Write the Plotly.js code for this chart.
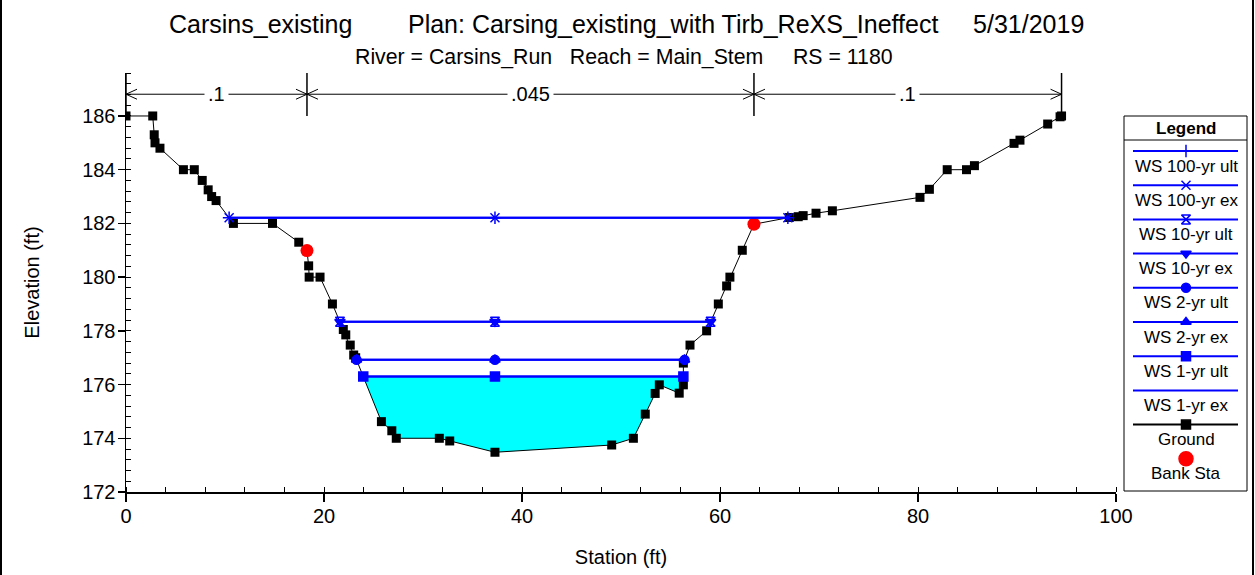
<!DOCTYPE html>
<html>
<head>
<meta charset="utf-8">
<script src="https://cdn.plot.ly/plotly-3.0.1.min.js"></script>
<style>html,body{margin:0;padding:0;background:#fff;}#chart{width:1255px;height:575px;}</style>
</head>
<body>
<div id="chart"></div>
<script>
// ---------------- DATA ----------------
const groundStation = [0, 2.7, 2.85, 2.93, 3.43, 5.8, 6.9, 7.7, 8.3, 8.65, 9.1, 10.85, 14.8, 17.45, 18.28, 18.45, 18.5, 19.6, 20.85, 21.95, 22.2, 22.65, 23.0, 23.2, 25.8, 26.85, 27.3, 31.65, 32.7, 37.27, 49.06, 51.25, 52.45, 53.45, 53.87, 55.88, 56.3, 56.3, 56.97, 58.65, 59.83, 60.67, 61.0, 62.25, 63.43, 67.0, 67.9, 68.4, 69.7, 71.35, 80.2, 81.15, 82.95, 84.9, 85.7, 89.7, 90.3, 93.1, 94.35, 94.5];
const groundElev = [186.0, 186.0, 185.3, 185.0, 184.8, 184.0, 184.0, 183.6, 183.25, 183.0, 182.85, 182.0, 182.0, 181.3, 180.99, 180.42, 180.0, 180.0, 179.0, 178.05, 177.85, 177.47, 177.1, 177.0, 174.62, 174.28, 174.0, 174.0, 173.9, 173.48, 173.75, 174.0, 174.9, 175.67, 175.99, 175.68, 175.99, 176.8, 177.47, 178.0, 179.0, 179.67, 180.0, 181.0, 181.97, 182.22, 182.25, 182.29, 182.38, 182.47, 182.97, 183.27, 184.0, 184.0, 184.15, 184.98, 185.1, 185.7, 185.97, 186.0];
const bankStation = [18.28, 63.43];
const bankElev = [180.99, 181.97];
const profileNames = ['WS 100-yr ult', 'WS 100-yr ex', 'WS 10-yr ult', 'WS 10-yr ex', 'WS 2-yr ult', 'WS 2-yr ex', 'WS 1-yr ult', 'WS 1-yr ex'];
const profileElev = [182.21, 182.21, 178.34, 178.34, 176.92, 176.92, 176.30, 176.30];
const profileSymbols = ['cross-thin-open', 'x-thin-open', 'hourglass-open', 'triangle-down', 'circle', 'triangle-up', 'square', null];
const nStations = [0, 18.28, 63.43, 94.5];
const nValues = ['.1', '.045', '.1'];
const xTickVals = [0, 20, 40, 60, 80, 100];
const yTickVals = [172, 174, 176, 178, 180, 182, 184, 186];

// ---------------- HELPERS ----------------
const BLUE = '#0000ff';
const FONT = 'Arial, "Liberation Sans", sans-serif';
let thal = 0;
groundElev.forEach((v, i) => { if (v < groundElev[thal]) thal = i; });
function interp(i, j, e) {
  const t = (groundElev[i] - e) / (groundElev[i] - groundElev[j]);
  return groundStation[i] + t * (groundStation[j] - groundStation[i]);
}
function extents(e) {
  let xl = groundStation[0], xr = groundStation[groundStation.length - 1];
  for (let i = thal; i > 0; i--) { if (groundElev[i - 1] >= e && groundElev[i] < e) { xl = interp(i - 1, i, e); break; } }
  for (let i = thal; i < groundStation.length - 1; i++) { if (groundElev[i + 1] >= e && groundElev[i] < e) { xr = interp(i + 1, i, e); break; } }
  return [xl, xr];
}

const traces = [];
// water fill under lowest profile
{
  const e = profileElev[profileElev.length - 1];
  const [xl, xr] = extents(e);
  const fx = [xl], fy = [e];
  groundStation.forEach((s, i) => { if (s > xl && s < xr) { fx.push(s); fy.push(groundElev[i]); } });
  fx.push(xr); fy.push(e);
  traces.push({ x: fx, y: fy, type: 'scatter', mode: 'lines', fill: 'toself', fillcolor: '#00ffff', line: { width: 0, color: '#00ffff' }, hoverinfo: 'skip', showlegend: false });
}
// ground
traces.push({ x: groundStation, y: groundElev, type: 'scatter', mode: 'lines+markers', line: { color: '#000', width: 1 }, marker: { symbol: 'square', size: 9, color: '#000', opacity: 1 }, showlegend: false, name: 'Ground' });
// bank stations
traces.push({ x: bankStation, y: bankElev, type: 'scatter', mode: 'markers', marker: { symbol: 'circle', size: 13, color: '#ff0000', opacity: 1 }, showlegend: false, name: 'Bank Sta' });
// water surfaces (lowest first so top ones draw above)
for (let k = profileNames.length - 1; k >= 0; k--) {
  const e = profileElev[k];
  const [xl, xr] = extents(e);
  const sym = profileSymbols[k];
  const tr = {
    x: [xl, groundStation[thal], xr], y: [e, e, e], type: 'scatter',
    mode: sym ? 'lines+markers' : 'lines', name: profileNames[k], showlegend: false,
    line: { color: BLUE, width: 2 }
  };
  if (sym) tr.marker = { symbol: sym, size: 9, color: BLUE, opacity: 1, line: { color: BLUE, width: 1.5 } };
  traces.push(tr);
}

// ---------------- LEGEND (custom box) ----------------
const legShapes = [], legAnn = [];
const legItems = profileNames.concat(['Ground', 'Bank Sta']);
const legSyms = profileSymbols.concat(['square', 'circle']);
const legColors = profileNames.map(() => BLUE).concat(['#000', '#ff0000']);
const legSizes = profileNames.map(() => 9).concat([9, 14]);
const LX0 = 1133, LX1 = 1238, LXC = 1186, LY0 = 151, LDY = 34.2;
legShapes.push({ type: 'rect', xref: 'x2', yref: 'y2', x0: 1124, x1: 1247, y0: 116, y1: 491, line: { color: '#000', width: 1 } });
legShapes.push({ type: 'line', xref: 'x2', yref: 'y2', x0: 1124, x1: 1247, y0: 140, y1: 140, line: { color: '#000', width: 1 } });
legAnn.push({ xref: 'x2', yref: 'y2', x: LXC, y: 128, text: '<b>Legend</b>', showarrow: false, font: { family: FONT, size: 17, color: '#000' } });
const lmx = [], lmy = [], lms = [], lmc = [], lmz = [];
legItems.forEach((nm, i) => {
  const ly = LY0 + LDY * i;
  if (i < legItems.length - 1) {
    legShapes.push({ type: 'line', xref: 'x2', yref: 'y2', x0: LX0, x1: LX1, y0: ly, y1: ly, line: { color: legColors[i], width: 2 } });
  }
  if (legSyms[i]) { lmx.push(LXC); lmy.push(ly); lms.push(legSyms[i]); lmc.push(legColors[i]); lmz.push(legSizes[i]); }
  legAnn.push({ xref: 'x2', yref: 'y2', x: LXC, y: ly + 15, text: nm, showarrow: false, font: { family: FONT, size: 17, color: '#000' } });
});
traces.push({ x: lmx, y: lmy, xaxis: 'x2', yaxis: 'y2', type: 'scatter', mode: 'markers', showlegend: false, hoverinfo: 'skip',
  marker: { symbol: lms, color: lmc, size: lmz, opacity: 1, line: { color: lmc, width: 1.5 } } });

// ---------------- n-value annotations ----------------
const YTOP = 187.6, NY = 186.81;
const nShapes = [], nAnn = [];
nStations.forEach((s) => {
  nShapes.push({ type: 'line', xref: 'x', yref: 'y', x0: s, x1: s, y0: 186, y1: YTOP, line: { color: '#000', width: 1.5 } });
});
for (let i = 0; i < nValues.length; i++) {
  const a = nStations[i], b = nStations[i + 1];
  nShapes.push({ type: 'line', xref: 'x', yref: 'y', x0: a, x1: b, y0: NY, y1: NY, line: { color: '#000', width: 1 } });
  nShapes.push({ type: 'path', xref: 'x', yref: 'y', xsizemode: 'pixel', ysizemode: 'pixel', xanchor: a, yanchor: NY, path: 'M11,5 L0,0 L11,-5', line: { color: '#000', width: 1 } });
  nShapes.push({ type: 'path', xref: 'x', yref: 'y', xsizemode: 'pixel', ysizemode: 'pixel', xanchor: b, yanchor: NY, path: 'M-11,5 L0,0 L-11,-5', line: { color: '#000', width: 1 } });
  nAnn.push({ xref: 'x', yref: 'y', x: (a + b) / 2, y: NY, text: nValues[i], showarrow: false, bgcolor: '#fff', borderpad: 3, font: { family: FONT, size: 20, color: '#000' } });
}

// ---------------- titles & frame ----------------
const NB = '\u00A0';
const titleAnn = [
  { xref: 'paper', yref: 'paper', x: 0.4453, y: (492 - 24) / 419, yanchor: 'middle', showarrow: false,
    text: 'Carsins_existing' + NB.repeat(8) + 'Plan: Carsing_existing_with Tirb_ReXS_Ineffect' + NB.repeat(5) + '5/31/2019',
    font: { family: FONT, size: 25, color: '#000' } },
  { xref: 'paper', yref: 'paper', x: 0.4427, y: (492 - 57) / 419, yanchor: 'middle', showarrow: false,
    text: 'River = Carsins_Run' + NB.repeat(3) + 'Reach = Main_Stem' + NB.repeat(5) + 'RS = 1180',
    font: { family: FONT, size: 21.3, color: '#000' } }
];
const frameShapes = [
  { type: 'line', xref: 'paper', yref: 'paper', x0: (1 - 126) / 1125, x1: (1 - 126) / 1125, y0: -83 / 419, y1: 492 / 419, line: { color: '#000', width: 2 } },
  { type: 'line', xref: 'paper', yref: 'paper', x0: (1253 - 126) / 1125, x1: (1253 - 126) / 1125, y0: -83 / 419, y1: 492 / 419, line: { color: '#000', width: 2 } }
];

const layout = {
  width: 1255, height: 575,
  margin: { l: 126, r: 4, t: 73, b: 83 },
  paper_bgcolor: '#fff', plot_bgcolor: '#fff',
  showlegend: false,
  font: { family: FONT, color: '#000' },
  xaxis: {
    domain: [0, 990 / 1125], range: [0, 100], tickvals: xTickVals, showgrid: false, zeroline: false,
    showline: true, linecolor: '#000', linewidth: 1.5, ticks: 'outside', ticklen: 8, tickwidth: 1.5, tickcolor: '#000',
    minor: { dtick: 4, ticks: 'inside', ticklen: 5, tickwidth: 1, tickcolor: '#000', showgrid: false },
    tickfont: { family: FONT, size: 20, color: '#000' }, ticklabelstandoff: -3,
    title: { text: 'Station (ft)', font: { family: FONT, size: 20, color: '#000' }, standoff: 24 },
    anchor: 'y', fixedrange: true
  },
  yaxis: {
    domain: [0, 1], range: [172, YTOP], tickvals: yTickVals, showgrid: false, zeroline: false,
    showline: true, linecolor: '#000', linewidth: 1.5, ticks: 'outside', ticklen: 7, tickwidth: 1.5, tickcolor: '#000',
    minor: { tick0: 172, dtick: 0.4, ticks: 'inside', ticklen: 5, tickwidth: 1, tickcolor: '#000', showgrid: false },
    tickfont: { family: FONT, size: 20, color: '#000' }, ticklabelstandoff: -2,
    title: { text: 'Elevation (ft)', font: { family: FONT, size: 20, color: '#000' }, standoff: 37 },
    anchor: 'x', fixedrange: true
  },
  xaxis2: { domain: [(1120 - 126) / 1125, 1], range: [1120, 1251], visible: false, anchor: 'y2', fixedrange: true },
  yaxis2: { domain: [0, 1], range: [492, 73], visible: false, anchor: 'x2', fixedrange: true },
  shapes: nShapes.concat(legShapes, frameShapes),
  annotations: nAnn.concat(legAnn, titleAnn)
};

Plotly.newPlot('chart', traces, layout, { displayModeBar: false, staticPlot: true });
</script>
</body>
</html>
